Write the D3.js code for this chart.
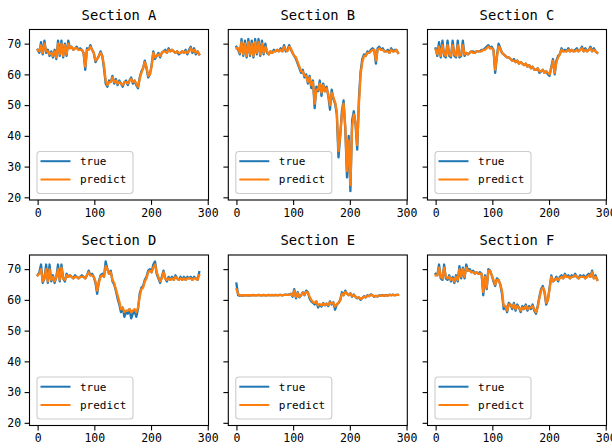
<!DOCTYPE html>
<html>
<head>
<meta charset="utf-8">
<script src="https://cdn.jsdelivr.net/npm/d3@7"></script>
<style>
  html, body { margin: 0; padding: 0; background: #fff; }
  svg { display: block; }
</style>
</head>
<body>
<svg id="chart" width="612" height="448"></svg>
<script>
// Six road sections, true vs predicted speed, one sample every 3 time steps
const sectionTitles = ["Section A", "Section B", "Section C", "Section D", "Section E", "Section F"];
const legendLabels = ["true", "predict"];
const seriesColors = ["#1f77b4", "#ff7f0e"];
const sampleStep = 3;
const xTickValues = [0, 100, 200, 300];
const yTickValues = [20, 30, 40, 50, 60, 70];

const sectionATrue = [
  68, 67, 70.5, 66.5, 71, 67, 68, 66,
  67.5, 65.5, 68, 65, 71, 66, 71, 65.5,
  70, 66, 71, 68.5, 69, 68, 68.5, 69,
  68, 68.5, 68, 67, 61.5, 68.5, 68, 69.5,
  68, 67, 64, 65, 66, 67.5, 66, 62,
  57, 56, 58, 57.5, 59.5, 57, 58.5, 56.5,
  58, 57, 56, 57.5, 58, 56.5, 58, 59,
  57, 58, 56.5, 55.5, 59, 61, 62, 64.5,
  62, 59, 60, 63, 67.5, 65, 66, 67,
  65.5, 67, 67.5, 68, 67, 68.5, 67.5, 68,
  67.5, 67, 67.5, 66.5, 67, 67.5, 67, 68,
  66.5, 68, 69, 67, 68.5, 66.5, 67.5, 66.5
];
const sectionAPredict = [
  68, 67.5, 69.5, 67, 70, 67.5, 67.5, 66.5,
  67, 66, 67.5, 65.5, 70, 66.5, 70, 66,
  69.5, 66.5, 70, 68.5, 69, 68, 68.5, 68.5,
  68, 68, 68, 67, 62.5, 68, 68, 69,
  68, 67, 64.5, 65, 66, 67, 66, 63,
  58, 56.5, 57.5, 57.5, 59, 57.5, 58, 57,
  57.5, 57, 56.5, 57.5, 57.5, 57, 58, 58.5,
  57.5, 58, 57, 56, 58.5, 60.5, 62, 64,
  62.5, 59.5, 60, 62.5, 67, 65.5, 66, 66.5,
  66, 67, 67.5, 67.5, 67, 68, 67.5, 68,
  67.5, 67, 67.5, 67, 67, 67.5, 67, 67.5,
  67, 67.5, 68.5, 67.5, 68, 67, 67.5, 66.5
];

const sectionBTrue = [
  69, 68, 66.5, 71.5, 66, 71, 65.5, 71.5,
  66, 71, 65.5, 71.5, 66.5, 71.5, 66, 71,
  66.5, 70, 67, 66.5, 67.5, 67, 68, 67.5,
  68, 67.5, 68.5, 67.5, 69.5, 67.5, 68, 69.5,
  68, 67, 66, 65, 63.5, 62, 60.5, 61.5,
  59, 60, 57, 59.5, 55.5, 58, 49, 56,
  54.5, 58, 53, 57, 54.5, 56, 53, 48.5,
  55, 52, 50.5, 47, 33, 40, 48, 51.5,
  42, 26.5, 40, 22, 45, 48, 44, 35.5,
  52, 61, 65, 66.5, 66, 67.5, 67, 68,
  68.5, 68, 63.5, 68.5, 69, 68, 68.5, 67.5,
  67.5, 68, 67, 68.5, 67.5, 68, 68, 67
];
const sectionBPredict = [
  68.5, 68.5, 67, 70.5, 66.5, 70, 66, 70.5,
  66.5, 70, 66, 70.5, 67, 70.5, 66.5, 70,
  67, 69, 67.5, 66.5, 67.5, 67, 67.5, 67.5,
  68, 67.5, 68, 67.5, 69, 68, 67.5, 69,
  68.5, 67, 66, 65.5, 64, 62.5, 61, 61,
  59.5, 59.5, 57.5, 59, 56.5, 57.5, 50.5, 55,
  55, 57, 54, 56.5, 54.5, 55.5, 53.5, 50,
  54, 52.5, 51, 48, 35, 40, 47, 50.5,
  43, 28.5, 38.5, 24, 43, 47, 44.5, 37,
  50, 60, 64, 66, 66, 67, 67, 67.5,
  68, 68, 64.5, 68, 68.5, 68, 68, 67.5,
  67.5, 67.5, 67, 68, 67.5, 67.5, 68, 67
];

const sectionCTrue = [
  68.5, 66, 70.5, 65.5, 71, 66, 65.5, 71,
  66, 65.5, 71, 66, 65.5, 71, 65.5, 66,
  71, 66, 67, 66.5, 67, 67.5, 67.5, 67,
  67.5, 67.5, 67.5, 68, 68, 68.5, 69, 69.5,
  68.5, 69, 68, 60.5, 66, 70, 68.5, 67,
  66.5, 66, 65.5, 65.5, 65, 64.5, 65, 64,
  64.5, 63.5, 64, 63.5, 63, 63.5, 62.5, 63,
  62, 62.5, 61.5, 61.5, 62, 60.5, 61, 61.5,
  60.5, 61, 60, 59.5, 62.5, 65, 60, 64.5,
  66, 66.5, 68.5, 67.5, 68, 67.5, 68.5, 67.5,
  68, 67.5, 68, 68.5, 67.5, 68, 69, 67.5,
  68.5, 67.5, 68, 69, 67.5, 68.5, 67.5, 67
];
const sectionCPredict = [
  68, 66.5, 69, 66, 69.5, 66.5, 66, 69.5,
  66.5, 66, 69.5, 66.5, 66, 69.5, 66, 66.5,
  69.5, 66.5, 67, 66.5, 67, 67.5, 67, 67,
  67.5, 67.5, 67.5, 67.5, 68, 68, 68.5, 69,
  68.5, 68.5, 68, 61.5, 65.5, 69, 68.5, 67,
  66.5, 66, 65.5, 65.5, 65, 64.5, 64.5, 64,
  64.5, 63.5, 64, 63.5, 63, 63.5, 62.5, 63,
  62, 62.5, 61.5, 61.5, 62, 61, 61, 61.5,
  60.5, 61, 60.5, 60, 62, 64.5, 60.5, 64,
  65.5, 66.5, 68, 67.5, 67.5, 67.5, 68, 67.5,
  68, 67.5, 67.5, 68, 67.5, 68, 68.5, 67.5,
  68, 67.5, 68, 68.5, 67.5, 68, 67.5, 67
];

const sectionDTrue = [
  68, 69, 71.5, 65.5, 67, 71.5, 65.5, 71.5,
  66, 68, 65.5, 67.5, 71.5, 66, 71.5, 67,
  66, 68.5, 67.5, 68, 67.5, 67, 68, 67.5,
  67, 67.5, 68, 67.5, 67, 68, 69.5, 68,
  68.5, 67.5, 65.5, 62, 66, 68, 68.5, 67.5,
  72.5, 70, 68.5, 69.5, 66, 65, 63, 60.5,
  58.5, 56, 57.5, 54.5, 56, 55.5, 57, 54,
  55.5, 56.5, 54.5, 57, 62, 64, 64.5, 66.5,
  67.5, 69.5, 70, 69, 71.5, 72.5, 68.5, 67,
  65.5, 67.5, 69.5, 67, 66, 67.5, 66.5, 67.5,
  66.5, 68, 67, 66.5, 67.5, 66.5, 67.5, 66.5,
  67.5, 67, 67.5, 66.5, 67.5, 67, 66.5, 69
];
const sectionDPredict = [
  68, 68.5, 70, 66, 67, 70, 66, 70,
  66.5, 67.5, 66, 67.5, 70, 66.5, 70.5, 67,
  66.5, 68, 67.5, 68, 67.5, 67, 67.5, 67.5,
  67, 67.5, 67.5, 67.5, 67, 68, 69, 68,
  68, 67.5, 66, 63, 65.5, 67.5, 68, 67.5,
  71, 70, 68.5, 69, 66.5, 65.5, 63.5, 61.5,
  59.5, 57, 57.5, 56, 56.5, 56.5, 57, 56,
  56.5, 57, 56, 57.5, 61, 63.5, 64, 66,
  67, 69, 69.5, 69, 70.5, 71.5, 69, 67.5,
  66, 67, 69, 67, 66.5, 67, 66.5, 67,
  66.5, 67.5, 67, 66.5, 67, 66.5, 67, 66.5,
  67, 67, 67, 66.5, 67, 67, 66.5, 68
];

const sectionETrue = [
  65.3, 61.5, 61.3, 61.5, 61.4, 61.5, 61.5, 61.4,
  61.5, 61.5, 61.6, 61.5, 61.5, 61.6, 61.5, 61.5,
  61.6, 61.5, 61.5, 61.6, 61.5, 61.6, 61.5, 61.6,
  61.5, 61.6, 61.6, 61.5, 61.6, 61.7, 61.6, 61.8,
  62, 61, 63.5, 60.5, 62.5, 60.8, 61.5, 62.5,
  61.5, 63, 62.5, 60.5, 59.5, 59, 58.5, 59.5,
  57.5, 58.5, 57.8, 59, 58.2, 58.8, 58, 59.5,
  58.5, 59.2, 56.8, 58.5, 59, 60, 62.5, 61.5,
  63, 62, 61.5, 62.2, 61, 61.8, 61, 60.5,
  60.8, 60, 60.6, 61.2, 60.8, 61.5, 61.2, 61.8,
  61.5, 61, 61.3, 61.1, 61.5, 61.4, 61.6, 61.3,
  61.6, 61.4, 61.7, 61.5, 61.7, 61.5, 61.6, 61.6
];
const sectionEPredict = [
  63.5, 62, 61.4, 61.5, 61.5, 61.5, 61.5, 61.5,
  61.5, 61.5, 61.5, 61.5, 61.5, 61.6, 61.5, 61.5,
  61.5, 61.5, 61.5, 61.6, 61.5, 61.5, 61.5, 61.6,
  61.5, 61.5, 61.6, 61.5, 61.6, 61.6, 61.6, 61.7,
  61.9, 61.3, 63, 61, 62.2, 61, 61.5, 62.3,
  61.7, 62.6, 62.4, 61, 60, 59.3, 59, 59.5,
  58.2, 58.6, 58.2, 58.8, 58.4, 58.8, 58.3, 59.2,
  58.8, 59, 57.8, 58.6, 59, 59.8, 62, 61.6,
  62.6, 62, 61.6, 62, 61.2, 61.6, 61, 60.7,
  60.8, 60.3, 60.6, 61, 60.9, 61.3, 61.2, 61.6,
  61.5, 61.1, 61.3, 61.2, 61.4, 61.4, 61.5, 61.4,
  61.5, 61.4, 61.6, 61.5, 61.6, 61.5, 61.6, 61.6
];

const sectionFTrue = [
  68.5, 68, 71.5, 67, 66.5, 71.5, 67, 66.5,
  68, 66, 67.5, 65.5, 68, 66, 71, 67,
  70.5, 67, 71.5, 69.5, 70, 69, 69.5, 68.5,
  69, 68.5, 69, 68.5, 61.5, 68, 63.5, 70,
  69.5, 68, 66, 64.5, 67, 66.5, 65, 62,
  57, 58, 56, 59, 58.5, 57, 59, 56.5,
  58.5, 57.5, 56, 58, 57, 58.5, 56.5, 58,
  57, 58.5, 56.5, 55.5, 58, 61, 63.5, 64.5,
  62.5, 58.5, 60, 64, 68, 66, 66.5, 67.5,
  66, 67.5, 68, 67, 68.5, 67.5, 68, 67,
  68, 67.5, 68.5, 67.5, 67, 68, 67.5, 68,
  67, 68, 68.5, 67.5, 69.5, 67, 68, 66.5
];
const sectionFPredict = [
  68, 68, 70.5, 67.5, 67, 70.5, 67.5, 67,
  67.5, 66.5, 67, 66, 67.5, 66.5, 70, 67.5,
  70, 67.5, 70.5, 69.5, 69.5, 69, 69, 68.5,
  69, 68.5, 68.5, 68.5, 62.5, 67.5, 64, 69.5,
  69.5, 68, 66.5, 65, 66.5, 66.5, 65, 63,
  58, 58, 56.5, 58.5, 58.5, 57.5, 58.5, 57,
  58, 57.5, 56.5, 57.5, 57, 58, 57, 57.5,
  57.5, 58, 57, 56, 57.5, 60.5, 63, 64,
  63, 59, 60, 63.5, 67.5, 66, 66.5, 67,
  66.5, 67, 67.5, 67, 68, 67.5, 67.5, 67,
  67.5, 67.5, 68, 67.5, 67, 67.5, 67.5, 67.5,
  67, 67.5, 68, 67.5, 69, 67, 67.5, 66.5
];

const panels = [
  { title: sectionTitles[0], series: [sectionATrue, sectionAPredict] },
  { title: sectionTitles[1], series: [sectionBTrue, sectionBPredict] },
  { title: sectionTitles[2], series: [sectionCTrue, sectionCPredict] },
  { title: sectionTitles[3], series: [sectionDTrue, sectionDPredict] },
  { title: sectionTitles[4], series: [sectionETrue, sectionEPredict] },
  { title: sectionTitles[5], series: [sectionFTrue, sectionFPredict] }
];

// Layout of the 2 x 3 grid of shared-y subplots
const FONT = "'DejaVu Sans Mono', monospace";
const plotW = 179, plotH = 170.5;
const colLeft = [29.5, 228.3, 427.5];
const rowTop = [29.5, 255];

const x = d3.scaleLinear().domain([-14.35, 301.35]).range([0, plotW]);
const y = d3.scaleLinear().domain([19.13, 74.6]).range([plotH, 0]);

const line = d3.line()
  .x((d, i) => x(i * sampleStep))
  .y(d => y(d));

const svg = d3.select("#chart");
svg.append("rect").attr("width", 612).attr("height", 448).attr("fill", "#fff");

panels.forEach((p, k) => {
  const col = k % 3, row = Math.floor(k / 3);
  const g = svg.append("g").attr("transform", `translate(${colLeft[col]},${rowTop[row]})`);

  // data lines: true first, predict drawn over it
  p.series.forEach((vals, s) => {
    g.append("path")
      .datum(vals)
      .attr("d", line)
      .attr("fill", "none")
      .attr("stroke", seriesColors[s])
      .attr("stroke-width", 2.3)
      .attr("stroke-linejoin", "round")
      .attr("stroke-linecap", "square");
  });

  // axes
  const xa = g.append("g")
    .attr("transform", `translate(0,${plotH})`)
    .call(d3.axisBottom(x).tickValues(xTickValues).tickSize(4.9).tickPadding(3.5).tickFormat(d3.format("d")));
  const ya = g.append("g")
    .call(d3.axisLeft(y).tickValues(yTickValues).tickSize(4.9).tickPadding(3.5)
      .tickFormat(col === 0 ? d3.format("d") : () => ""));
  [xa, ya].forEach(a => {
    a.select(".domain").remove();
    a.attr("font-family", FONT).attr("font-size", 11.5);
    a.selectAll(".tick line").attr("stroke", "#000").attr("stroke-width", 1.1);
    a.selectAll(".tick text").attr("fill", "#000");
  });

  // frame
  g.append("rect")
    .attr("width", plotW).attr("height", plotH)
    .attr("fill", "none").attr("stroke", "#000").attr("stroke-width", 1.1);

  // title
  g.append("text")
    .attr("x", plotW / 2).attr("y", -10)
    .attr("text-anchor", "middle")
    .attr("font-family", FONT).attr("font-size", 13.8)
    .attr("fill", "#000")
    .text(p.title);

  // legend, lower left
  const lg = g.append("g").attr("transform", `translate(7.5,${plotH - 48.5})`);
  lg.append("rect")
    .attr("width", 96).attr("height", 42).attr("rx", 3)
    .attr("fill", "#fff").attr("fill-opacity", 0.8)
    .attr("stroke", "#ccc").attr("stroke-width", 1.1);
  legendLabels.forEach((lab, s) => {
    const ly = 9.7 + s * 18.3;
    lg.append("line")
      .attr("x1", 3.5).attr("x2", 33.5).attr("y1", ly).attr("y2", ly)
      .attr("stroke", seriesColors[s]).attr("stroke-width", 2);
    lg.append("text")
      .attr("x", 43).attr("y", ly).attr("dy", "0.35em")
      .attr("font-family", FONT).attr("font-size", 11)
      .attr("fill", "#000")
      .text(lab);
  });
});
</script>
</body>
</html>
